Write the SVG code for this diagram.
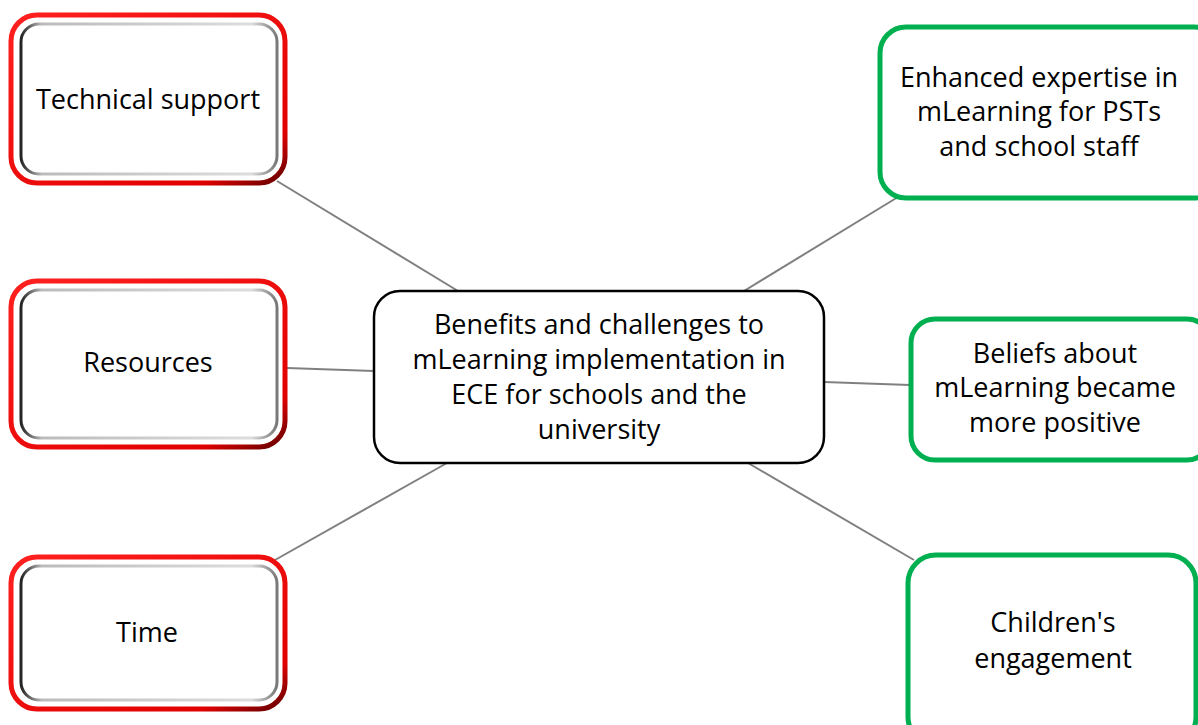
<svg xmlns="http://www.w3.org/2000/svg" width="1198" height="725" viewBox="0 0 1198 725">
  <defs>
    <linearGradient id="bevel" x1="0" y1="0" x2="1" y2="0">
      <stop offset="0" stop-color="#222"/>
      <stop offset="0.08" stop-color="#bbb"/>
      <stop offset="0.9" stop-color="#ddd"/>
      <stop offset="1" stop-color="#777"/>
    </linearGradient>
    <linearGradient id="redEdge" x1="0" y1="0" x2="1" y2="1">
      <stop offset="0" stop-color="#ff2020"/>
      <stop offset="0.85" stop-color="#e00000"/>
      <stop offset="1" stop-color="#600000"/>
    </linearGradient>
  </defs>
  <style>
    .lbl { font-family: "Open Sans", "Liberation Sans", sans-serif; font-size: 27px; fill: #000; text-anchor: middle; }
    .red-out { fill: #fff; stroke: url(#redEdge); stroke-width: 5; }
    .red-in { fill: #fff; stroke: url(#bevel); stroke-width: 3; }
    .green { fill: #fff; stroke: #00b050; stroke-width: 5; }
    .hub { fill: #fff; stroke: #000; stroke-width: 2.5; }
    .link { stroke: #808080; stroke-width: 2; fill: none; }
  </style>

  <g id="connectors">
    <line class="link" x1="277" y1="181" x2="458" y2="291"/>
    <line class="link" x1="287" y1="368" x2="374" y2="371"/>
    <line class="link" x1="275" y1="560" x2="447" y2="463"/>
    <line class="link" x1="898" y1="197" x2="744" y2="291"/>
    <line class="link" x1="824" y1="382" x2="910" y2="385"/>
    <line class="link" x1="748" y1="463" x2="914" y2="560"/>
  </g>

  <g id="hub">
    <rect class="hub" x="374" y="291" width="450" height="172" rx="26"/>
    <text class="lbl" x="599" y="334">Benefits and challenges to</text>
    <text class="lbl" x="599" y="369">mLearning implementation in</text>
    <text class="lbl" x="599" y="404">ECE for schools and the</text>
    <text class="lbl" x="599" y="439">university</text>
  </g>

  <g id="technical-support">
    <rect class="red-out" x="11" y="15" width="274" height="168" rx="26"/>
    <rect class="red-in" x="21" y="24" width="256" height="150" rx="18"/>
    <text class="lbl" x="148" y="109">Technical support</text>
  </g>

  <g id="resources">
    <rect class="red-out" x="11" y="281" width="274" height="166" rx="26"/>
    <rect class="red-in" x="21" y="290" width="256" height="148" rx="18"/>
    <text class="lbl" x="148" y="372">Resources</text>
  </g>

  <g id="time">
    <rect class="red-out" x="11" y="557" width="274" height="152" rx="26"/>
    <rect class="red-in" x="21" y="566" width="256" height="134" rx="18"/>
    <text class="lbl" x="147" y="642">Time</text>
  </g>

  <g id="enhanced-expertise">
    <rect class="green" x="880" y="27" width="340" height="171" rx="26"/>
    <text class="lbl" x="1039" y="87">Enhanced expertise in</text>
    <text class="lbl" x="1039" y="121">mLearning for PSTs</text>
    <text class="lbl" x="1039" y="156">and school staff</text>
  </g>

  <g id="beliefs">
    <rect class="green" x="911" y="319" width="300" height="141" rx="24"/>
    <text class="lbl" x="1055" y="363">Beliefs about</text>
    <text class="lbl" x="1055" y="397">mLearning became</text>
    <text class="lbl" x="1055" y="432">more positive</text>
  </g>

  <g id="childrens-engagement">
    <rect class="green" x="908" y="555" width="288" height="190" rx="28"/>
    <text class="lbl" x="1053" y="632">Children's</text>
    <text class="lbl" x="1053" y="668">engagement</text>
  </g>
</svg>
